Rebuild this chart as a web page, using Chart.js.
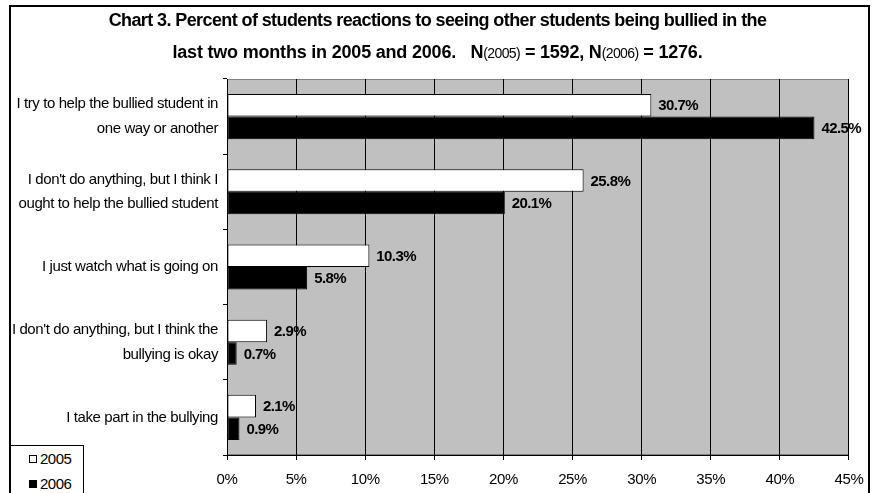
<!DOCTYPE html>
<html>
<head>
<meta charset="utf-8">
<script src="https://cdn.jsdelivr.net/npm/chart.js@4"></script>
<style>
  html, body { margin: 0; padding: 0; background: #fff; }
  #wrap { position: relative; width: 875px; height: 493px; overflow: hidden; font-family: "Liberation Sans", Arial, sans-serif; }
  #frame { position: absolute; left: 9px; top: 5px; width: 857px; height: 500px; border: 2px solid #000; border-bottom: none; background: #fff; }
  #chart { position: absolute; left: 0; top: 0; }
  .title { position: absolute; left: 0; width: 875px; text-align: center; font-weight: bold; font-size: 18px; letter-spacing: -0.6px; color: #000; white-space: pre; line-height: 20px; }
  .title.second { letter-spacing: -0.2px; }
  .title small { font-weight: normal; font-size: 14px; letter-spacing: -0.6px; }
  #legend { position: absolute; left: 10px; top: 445px; width: 72px; height: 60px; border: 1px solid #000; background: #fff; font-size: 15px; letter-spacing: -0.5px; }
  #legend div { position: absolute; left: 18px; height: 16px; line-height: 16px; }
  #legend span { display: inline-block; width: 6px; height: 6px; border: 1px solid #000; margin-right: 3px; vertical-align: 1px; }
</style>
</head>
<body>
<div id="wrap">
  <div id="frame"></div>
  <canvas id="chart" width="875" height="493"></canvas>
  <div class="title" style="top:10px">Chart 3. Percent of students reactions to seeing other students being bullied in the</div>
  <div class="title second" style="top:42px">last two months in 2005 and 2006.   N<small>(2005)</small> = 1592, N<small>(2006)</small> = 1276.</div>
  <div id="legend">
    <div style="top:5px"><span style="background:#fff"></span>2005</div>
    <div style="top:30px"><span style="background:#000"></span>2006</div>
  </div>
</div>
<script>
const categories = [
    ['I try to help the bullied student in', 'one way or another'],
    ["I don't do anything, but I think I", 'ought to help the bullied student'],
    'I just watch what is going on',
    ["I don't do anything, but I think the", 'bullying is okay'],
    'I take part in the bullying'
];
const values2005 = [30.7, 25.8, 10.3, 2.9, 2.1];
const values2006 = [42.5, 20.1, 5.8, 0.7, 0.9];
const xTicks = [0, 5, 10, 15, 20, 25, 30, 35, 40, 45];

const plotBackground = {
    id: 'plotBackground',
    beforeDraw(chart) {
        const { ctx, chartArea: a } = chart;
        ctx.letterSpacing = '-0.4px';
        ctx.save();
        ctx.fillStyle = '#c0c0c0';
        ctx.fillRect(a.left, a.top, a.right - a.left, a.bottom - a.top);
        ctx.strokeStyle = '#808080';
        ctx.lineWidth = 1;
        ctx.strokeRect(a.left + 0.5, a.top + 0.5, a.right - a.left - 1, a.bottom - a.top - 1);
        ctx.restore();
    }
};

const barLabels = {
    id: 'barLabels',
    afterDatasetsDraw(chart) {
        const { ctx } = chart;
        ctx.save();
        ctx.font = 'bold 15px "Liberation Sans", Arial, sans-serif';
        ctx.letterSpacing = '-0.6px';
        ctx.fillStyle = '#000';
        ctx.textAlign = 'left';
        ctx.textBaseline = 'middle';
        chart.data.datasets.forEach((ds, i) => {
            chart.getDatasetMeta(i).data.forEach((bar, j) => {
                ctx.fillText(ds.data[j].toFixed(1) + '%', bar.x + 7, bar.y + 1);
            });
        });
        ctx.restore();
    }
};

new Chart(document.getElementById('chart'), {
    type: 'bar',
    data: {
        labels: categories,
        datasets: [
            { label: '2005', data: values2005, backgroundColor: '#ffffff', borderColor: '#000', borderWidth: 1, borderSkipped: false },
            { label: '2006', data: values2006, backgroundColor: '#000000', borderColor: '#000', borderWidth: 1, borderSkipped: false }
        ]
    },
    options: {
        indexAxis: 'y',
        responsive: false,
        animation: false,
        events: [],
        layout: { padding: { top: 79, right: 23, left: 0, bottom: 0 } },
        datasets: { bar: { categoryPercentage: 0.6, barPercentage: 1.0 } },
        plugins: { legend: { display: false }, tooltip: { enabled: false } },
        scales: {
            x: {
                min: 0,
                max: 45,
                afterBuildTicks: s => { s.ticks = xTicks.map(v => ({ value: v })); },
                afterFit: s => { s.height = 38; },
                grid: { color: '#000', lineWidth: 1, tickLength: 5, drawTicks: true },
                border: { color: '#000', width: 1 },
                ticks: {
                    color: '#000',
                    padding: 11,
                    font: { family: '"Liberation Sans", Arial, sans-serif', size: 15 },
                    callback: v => v + '%'
                }
            },
            y: {
                afterFit: s => { s.width = 227; },
                grid: { offset: true, drawOnChartArea: false, color: '#000', tickLength: 4 },
                border: { color: '#000', width: 1 },
                ticks: {
                    color: '#000',
                    padding: 5,
                    font: { family: '"Liberation Sans", Arial, sans-serif', size: 15, lineHeight: 1.65 }
                }
            }
        }
    },
    plugins: [plotBackground, barLabels]
});
</script>
</body>
</html>
